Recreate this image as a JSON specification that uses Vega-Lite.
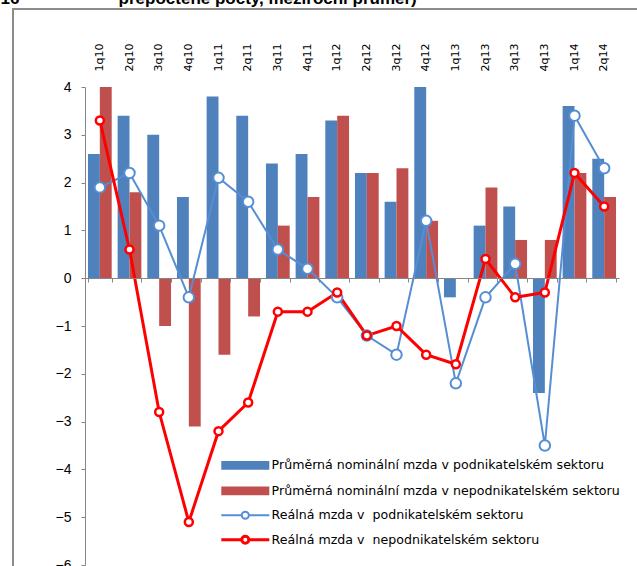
{
  "$schema": "https://vega.github.io/schema/vega-lite/v6.json",
  "autosize": {"type": "none"},
  "padding": {"left": 13, "top": 9, "right": 0, "bottom": 0},
  "width": 626,
  "height": 559,
  "background": "white",
  "config": {
    "view": {"stroke": "#8C8C8C", "strokeWidth": 2, "fill": "white"},
    "font": "Liberation Sans"
  },
  "datasets": {
    "bars": [
      {"q": "1q10", "s": "Průměrná nominální mzda v podnikatelském sektoru", "v": 2.6},
      {"q": "2q10", "s": "Průměrná nominální mzda v podnikatelském sektoru", "v": 3.4},
      {"q": "3q10", "s": "Průměrná nominální mzda v podnikatelském sektoru", "v": 3.0},
      {"q": "4q10", "s": "Průměrná nominální mzda v podnikatelském sektoru", "v": 1.7},
      {"q": "1q11", "s": "Průměrná nominální mzda v podnikatelském sektoru", "v": 3.8},
      {"q": "2q11", "s": "Průměrná nominální mzda v podnikatelském sektoru", "v": 3.4},
      {"q": "3q11", "s": "Průměrná nominální mzda v podnikatelském sektoru", "v": 2.4},
      {"q": "4q11", "s": "Průměrná nominální mzda v podnikatelském sektoru", "v": 2.6},
      {"q": "1q12", "s": "Průměrná nominální mzda v podnikatelském sektoru", "v": 3.3},
      {"q": "2q12", "s": "Průměrná nominální mzda v podnikatelském sektoru", "v": 2.2},
      {"q": "3q12", "s": "Průměrná nominální mzda v podnikatelském sektoru", "v": 1.6},
      {"q": "4q12", "s": "Průměrná nominální mzda v podnikatelském sektoru", "v": 4.0},
      {"q": "1q13", "s": "Průměrná nominální mzda v podnikatelském sektoru", "v": -0.4},
      {"q": "2q13", "s": "Průměrná nominální mzda v podnikatelském sektoru", "v": 1.1},
      {"q": "3q13", "s": "Průměrná nominální mzda v podnikatelském sektoru", "v": 1.5},
      {"q": "4q13", "s": "Průměrná nominální mzda v podnikatelském sektoru", "v": -2.4},
      {"q": "1q14", "s": "Průměrná nominální mzda v podnikatelském sektoru", "v": 3.6},
      {"q": "2q14", "s": "Průměrná nominální mzda v podnikatelském sektoru", "v": 2.5},
      {"q": "1q10", "s": "Průměrná nominální mzda v nepodnikatelském sektoru", "v": 4.0},
      {"q": "2q10", "s": "Průměrná nominální mzda v nepodnikatelském sektoru", "v": 1.8},
      {"q": "3q10", "s": "Průměrná nominální mzda v nepodnikatelském sektoru", "v": -1.0},
      {"q": "4q10", "s": "Průměrná nominální mzda v nepodnikatelském sektoru", "v": -3.1},
      {"q": "1q11", "s": "Průměrná nominální mzda v nepodnikatelském sektoru", "v": -1.6},
      {"q": "2q11", "s": "Průměrná nominální mzda v nepodnikatelském sektoru", "v": -0.8},
      {"q": "3q11", "s": "Průměrná nominální mzda v nepodnikatelském sektoru", "v": 1.1},
      {"q": "4q11", "s": "Průměrná nominální mzda v nepodnikatelském sektoru", "v": 1.7},
      {"q": "1q12", "s": "Průměrná nominální mzda v nepodnikatelském sektoru", "v": 3.4},
      {"q": "2q12", "s": "Průměrná nominální mzda v nepodnikatelském sektoru", "v": 2.2},
      {"q": "3q12", "s": "Průměrná nominální mzda v nepodnikatelském sektoru", "v": 2.3},
      {"q": "4q12", "s": "Průměrná nominální mzda v nepodnikatelském sektoru", "v": 1.2},
      {"q": "1q13", "s": "Průměrná nominální mzda v nepodnikatelském sektoru", "v": 0.0},
      {"q": "2q13", "s": "Průměrná nominální mzda v nepodnikatelském sektoru", "v": 1.9},
      {"q": "3q13", "s": "Průměrná nominální mzda v nepodnikatelském sektoru", "v": 0.8},
      {"q": "4q13", "s": "Průměrná nominální mzda v nepodnikatelském sektoru", "v": 0.8},
      {"q": "1q14", "s": "Průměrná nominální mzda v nepodnikatelském sektoru", "v": 2.2},
      {"q": "2q14", "s": "Průměrná nominální mzda v nepodnikatelském sektoru", "v": 1.7}
    ],
    "lines": [
      {"q": "1q10", "s": "Reálná mzda v\u00a0 podnikatelském sektoru", "v": 1.9},
      {"q": "2q10", "s": "Reálná mzda v\u00a0 podnikatelském sektoru", "v": 2.2},
      {"q": "3q10", "s": "Reálná mzda v\u00a0 podnikatelském sektoru", "v": 1.1},
      {"q": "4q10", "s": "Reálná mzda v\u00a0 podnikatelském sektoru", "v": -0.4},
      {"q": "1q11", "s": "Reálná mzda v\u00a0 podnikatelském sektoru", "v": 2.1},
      {"q": "2q11", "s": "Reálná mzda v\u00a0 podnikatelském sektoru", "v": 1.6},
      {"q": "3q11", "s": "Reálná mzda v\u00a0 podnikatelském sektoru", "v": 0.6},
      {"q": "4q11", "s": "Reálná mzda v\u00a0 podnikatelském sektoru", "v": 0.2},
      {"q": "1q12", "s": "Reálná mzda v\u00a0 podnikatelském sektoru", "v": -0.4},
      {"q": "2q12", "s": "Reálná mzda v\u00a0 podnikatelském sektoru", "v": -1.2},
      {"q": "3q12", "s": "Reálná mzda v\u00a0 podnikatelském sektoru", "v": -1.6},
      {"q": "4q12", "s": "Reálná mzda v\u00a0 podnikatelském sektoru", "v": 1.2},
      {"q": "1q13", "s": "Reálná mzda v\u00a0 podnikatelském sektoru", "v": -2.2},
      {"q": "2q13", "s": "Reálná mzda v\u00a0 podnikatelském sektoru", "v": -0.4},
      {"q": "3q13", "s": "Reálná mzda v\u00a0 podnikatelském sektoru", "v": 0.3},
      {"q": "4q13", "s": "Reálná mzda v\u00a0 podnikatelském sektoru", "v": -3.5},
      {"q": "1q14", "s": "Reálná mzda v\u00a0 podnikatelském sektoru", "v": 3.4},
      {"q": "2q14", "s": "Reálná mzda v\u00a0 podnikatelském sektoru", "v": 2.3},
      {"q": "1q10", "s": "Reálná mzda v\u00a0 nepodnikatelském sektoru", "v": 3.3},
      {"q": "2q10", "s": "Reálná mzda v\u00a0 nepodnikatelském sektoru", "v": 0.6},
      {"q": "3q10", "s": "Reálná mzda v\u00a0 nepodnikatelském sektoru", "v": -2.8},
      {"q": "4q10", "s": "Reálná mzda v\u00a0 nepodnikatelském sektoru", "v": -5.1},
      {"q": "1q11", "s": "Reálná mzda v\u00a0 nepodnikatelském sektoru", "v": -3.2},
      {"q": "2q11", "s": "Reálná mzda v\u00a0 nepodnikatelském sektoru", "v": -2.6},
      {"q": "3q11", "s": "Reálná mzda v\u00a0 nepodnikatelském sektoru", "v": -0.7},
      {"q": "4q11", "s": "Reálná mzda v\u00a0 nepodnikatelském sektoru", "v": -0.7},
      {"q": "1q12", "s": "Reálná mzda v\u00a0 nepodnikatelském sektoru", "v": -0.3},
      {"q": "2q12", "s": "Reálná mzda v\u00a0 nepodnikatelském sektoru", "v": -1.2},
      {"q": "3q12", "s": "Reálná mzda v\u00a0 nepodnikatelském sektoru", "v": -1.0},
      {"q": "4q12", "s": "Reálná mzda v\u00a0 nepodnikatelském sektoru", "v": -1.6},
      {"q": "1q13", "s": "Reálná mzda v\u00a0 nepodnikatelském sektoru", "v": -1.8},
      {"q": "2q13", "s": "Reálná mzda v\u00a0 nepodnikatelském sektoru", "v": 0.4},
      {"q": "3q13", "s": "Reálná mzda v\u00a0 nepodnikatelském sektoru", "v": -0.4},
      {"q": "4q13", "s": "Reálná mzda v\u00a0 nepodnikatelském sektoru", "v": -0.3},
      {"q": "1q14", "s": "Reálná mzda v\u00a0 nepodnikatelském sektoru", "v": 2.2},
      {"q": "2q14", "s": "Reálná mzda v\u00a0 nepodnikatelském sektoru", "v": 1.5}
    ]
  },
  "layer": [
    {
      "data": {"name": "bars"},
      "mark": {"type": "bar"},
      "encoding": {
        "x": {
          "field": "q", "type": "nominal",
          "scale": {"domain": ["1q10","2q10","3q10","4q10","1q11","2q11","3q11","4q11","1q12","2q12","3q12","4q12","1q13","2q13","3q13","4q13","1q14","2q14"], "range": [72, 606], "paddingInner": 0.2, "paddingOuter": 0.1},
          "axis": {"orient": "top", "offset": -64, "labelAngle": -90, "labelAlign": "left", "labelBaseline": "middle", "domain": false, "ticks": false, "tickSize": 0, "labelPadding": 2, "labelFont": "DejaVu Sans", "labelFontSize": 11, "labelColor": "black", "grid": false,
            "title": "16\u00a0\u00a0\u00a0\u00a0\u00a0\u00a0\u00a0\u00a0\u00a0\u00a0\u00a0\u00a0\u00a0\u00a0\u00a0\u00a0\u00a0\u00a0\u00a0\u00a0\u00a0přepočtené počty, meziroční průměr)",
            "titleX": -13, "titleY": -70, "titleAlign": "left", "titleAnchor": "start", "titleAngle": 0, "titleBaseline": "alphabetic", "titleFont": "Liberation Sans", "titleFontSize": 17, "titleFontWeight": "bold", "titleColor": "black", "titleLimit": 700}
        },
        "xOffset": {"field": "s", "type": "nominal", "sort": null, "scale": {"domain": ["Průměrná nominální mzda v podnikatelském sektoru", "Průměrná nominální mzda v nepodnikatelském sektoru"], "paddingInner": 0, "paddingOuter": 0}},
        "y": {
          "field": "v", "type": "quantitative",
          "scale": {"domain": [-6, 4], "range": [556, 78], "nice": false, "zero": false},
          "axis": {"orient": "left", "offset": -72, "values": [-6,-5,-4,-3,-2,-1,0,1,2,3,4], "format": "d", "domainColor": "#868686", "tickColor": "#868686", "tickSize": 4, "labelFontSize": 14, "labelFont": "Liberation Sans", "labelColor": "black", "labelPadding": 10, "title": null, "grid": false}
        },
        "color": {
          "field": "s", "type": "nominal",
          "scale": {"domain": ["Průměrná nominální mzda v podnikatelském sektoru", "Průměrná nominální mzda v nepodnikatelském sektoru"], "range": ["#4F81BD", "#C0504D"]},
          "legend": {"orient": "none", "legendX": 226, "legendY": 450, "title": null, "symbolType": "M-8,-1.45L8,-1.45L8,1.45L-8,1.45Z", "symbolSize": 36, "symbolStrokeWidth": 0, "labelFont": "DejaVu Sans", "labelFontSize": 12.6, "labelColor": "black", "labelOffset": 20, "rowPadding": 12.5, "padding": 0, "labelLimit": 400}
        }
      }
    },
    {
      "data": {"name": "lines"},
      "mark": {"type": "line"},
      "encoding": {
        "x": {
          "field": "q", "type": "nominal",
          "scale": {"domain": ["1q10","2q10","3q10","4q10","1q11","2q11","3q11","4q11","1q12","2q12","3q12","4q12","1q13","2q13","3q13","4q13","1q14","2q14"], "range": [72, 606], "paddingInner": 0.2, "paddingOuter": 0.1},
          "axis": {"orient": "bottom", "offset": -290, "labels": false, "domain": true, "domainColor": "#868686", "domainWidth": 1, "ticks": true, "tickColor": "#868686", "tickSize": 4, "tickBand": "extent", "title": null, "grid": false, "zindex": 1}
        },
        "y": {"field": "v", "type": "quantitative", "scale": {"domain": [-6, 4], "range": [556, 78], "nice": false, "zero": false}},
        "stroke": {
          "field": "s", "type": "nominal",
          "scale": {"domain": ["Reálná mzda v\u00a0 podnikatelském sektoru", "Reálná mzda v\u00a0 nepodnikatelském sektoru"], "range": ["#558ED5", "#FF0000"]},
          "legend": {"orient": "none", "legendX": 226, "legendY": 500, "title": null, "symbolType": "M-8,0L-1.17,0M1.17,0L8,0M-1.17,0A1.17,1.17,0,1,0,1.17,0A1.17,1.17,0,1,0,-1.17,0Z", "symbolSize": 36, "symbolStrokeWidth": 2.5, "symbolFillColor": "white", "labelFont": "DejaVu Sans", "labelFontSize": 12.6, "labelColor": "black", "labelOffset": 20, "rowPadding": 6.5, "padding": 0, "labelLimit": 400}
        },
        "strokeWidth": {"field": "s", "type": "nominal", "scale": {"domain": ["Reálná mzda v\u00a0 podnikatelském sektoru", "Reálná mzda v\u00a0 nepodnikatelském sektoru"], "range": [2, 3]}, "legend": null}
      }
    },
    {
      "data": {"name": "lines"},
      "transform": [{"filter": {"field": "s", "equal": "Reálná mzda v\u00a0 podnikatelském sektoru"}}],
      "mark": {"type": "point", "shape": "circle", "filled": false, "fill": "white", "opacity": 1, "size": 110, "stroke": "#558ED5", "strokeWidth": 2},
      "encoding": {
        "x": {
          "field": "q", "type": "nominal",
          "scale": {"domain": ["1q10","2q10","3q10","4q10","1q11","2q11","3q11","4q11","1q12","2q12","3q12","4q12","1q13","2q13","3q13","4q13","1q14","2q14"], "range": [72, 606], "paddingInner": 0.2, "paddingOuter": 0.1},
          "axis": null
        },
        "y": {"field": "v", "type": "quantitative", "scale": {"domain": [-6, 4], "range": [556, 78], "nice": false, "zero": false}}
      }
    },
    {
      "data": {"name": "lines"},
      "transform": [{"filter": {"field": "s", "equal": "Reálná mzda v\u00a0 nepodnikatelském sektoru"}}],
      "mark": {"type": "point", "shape": "circle", "filled": false, "fill": "white", "opacity": 1, "size": 64, "stroke": "#FF0000", "strokeWidth": 2.5},
      "encoding": {
        "x": {
          "field": "q", "type": "nominal",
          "scale": {"domain": ["1q10","2q10","3q10","4q10","1q11","2q11","3q11","4q11","1q12","2q12","3q12","4q12","1q13","2q13","3q13","4q13","1q14","2q14"], "range": [72, 606], "paddingInner": 0.2, "paddingOuter": 0.1},
          "axis": null
        },
        "y": {"field": "v", "type": "quantitative", "scale": {"domain": [-6, 4], "range": [556, 78], "nice": false, "zero": false}}
      }
    }
  ],
  "resolve": {"axis": {"x": "independent"}}
}
